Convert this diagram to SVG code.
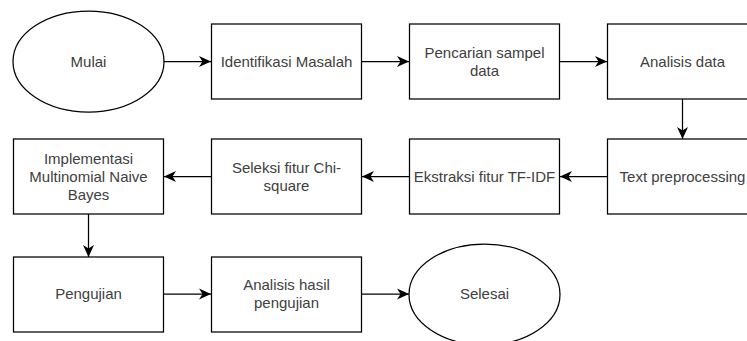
<svg xmlns="http://www.w3.org/2000/svg" width="747" height="341" viewBox="0 0 747 341">
<defs>
<style>
.s{fill:#ffffff;stroke:#000000;stroke-width:1.25}
.t{font-family:"Liberation Sans",Arial,Helvetica,sans-serif;font-size:15px;fill:#404040;text-anchor:middle}
.c{fill:none;stroke:#000000;stroke-width:1.25}
</style>
<marker id="ah" markerWidth="13" markerHeight="13" refX="12" refY="6.5" orient="auto" markerUnits="userSpaceOnUse">
<path d="M0,1 L12,6.5 L0,12 L3.5,6.5 Z" fill="#000000"/>
</marker>
</defs>
<rect width="747" height="341" fill="#ffffff"/>
<g id="connectors">
<line class="c" x1="164" y1="61.5" x2="211" y2="61.5" marker-end="url(#ah)"/>
<line class="c" x1="362" y1="61.5" x2="409" y2="61.5" marker-end="url(#ah)"/>
<line class="c" x1="560" y1="61.5" x2="607" y2="61.5" marker-end="url(#ah)"/>
<line class="c" x1="682.5" y1="99" x2="682.5" y2="139" marker-end="url(#ah)"/>
<line class="c" x1="607" y1="176.5" x2="560" y2="176.5" marker-end="url(#ah)"/>
<line class="c" x1="409" y1="176.5" x2="362" y2="176.5" marker-end="url(#ah)"/>
<line class="c" x1="211" y1="176.5" x2="164" y2="176.5" marker-end="url(#ah)"/>
<line class="c" x1="88.5" y1="214" x2="88.5" y2="257" marker-end="url(#ah)"/>
<line class="c" x1="164" y1="294" x2="211" y2="294" marker-end="url(#ah)"/>
<line class="c" x1="362" y1="294" x2="409" y2="294" marker-end="url(#ah)"/>
</g>
<g id="mulai">
<ellipse class="s" cx="88.5" cy="61.5" rx="75.5" ry="50.5"/>
<text class="t" x="88.5" y="66.5">Mulai</text>
</g>
<g id="identifikasi">
<rect class="s" x="211.5" y="24" width="150" height="75"/>
<text class="t" x="286.5" y="66.5">Identifikasi Masalah</text>
</g>
<g id="pencarian">
<rect class="s" x="409.5" y="24" width="150" height="75"/>
<text class="t" x="484.5" y="57.5">Pencarian sampel</text>
<text class="t" x="484.5" y="75.5">data</text>
</g>
<g id="analisis-data">
<rect class="s" x="607.5" y="24" width="150" height="75"/>
<text class="t" x="682.5" y="66.5">Analisis data</text>
</g>
<g id="text-preprocessing">
<rect class="s" x="607.5" y="139" width="150" height="75"/>
<text class="t" x="682.5" y="181.5">Text preprocessing</text>
</g>
<g id="ekstraksi">
<rect class="s" x="409.5" y="139" width="150" height="75"/>
<text class="t" x="484.5" y="181.5">Ekstraksi fitur TF-IDF</text>
</g>
<g id="seleksi">
<rect class="s" x="211.5" y="139" width="150" height="75"/>
<text class="t" x="286.5" y="172.5">Seleksi fitur Chi-</text>
<text class="t" x="286.5" y="190.5">square</text>
</g>
<g id="implementasi">
<rect class="s" x="13.5" y="139" width="150" height="75"/>
<text class="t" x="88.5" y="163.5">Implementasi</text>
<text class="t" x="88.5" y="181.5">Multinomial Naive</text>
<text class="t" x="88.5" y="199.5">Bayes</text>
</g>
<g id="pengujian">
<rect class="s" x="13.5" y="257" width="150" height="75"/>
<text class="t" x="88.5" y="299">Pengujian</text>
</g>
<g id="analisis-hasil">
<rect class="s" x="211.5" y="257" width="150" height="75"/>
<text class="t" x="286.5" y="290">Analisis hasil</text>
<text class="t" x="286.5" y="308">pengujian</text>
</g>
<g id="selesai">
<ellipse class="s" cx="484.5" cy="294.5" rx="75.5" ry="50.5"/>
<text class="t" x="484.5" y="299">Selesai</text>
</g>
</svg>
